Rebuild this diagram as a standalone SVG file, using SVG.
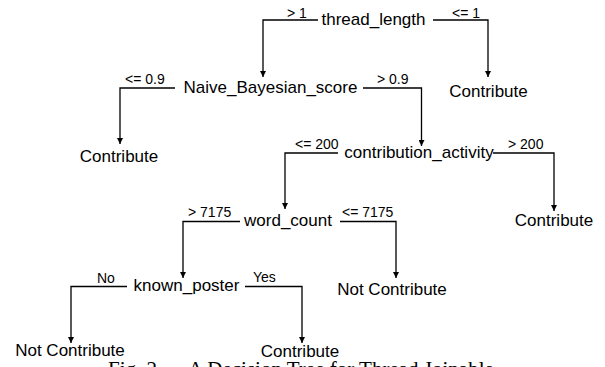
<svg xmlns="http://www.w3.org/2000/svg" width="605" height="367" viewBox="0 0 605 367">
<defs>
<style>
.n{font-family:"Liberation Sans",Arial,sans-serif;font-size:17px;fill:#000;text-anchor:middle}
.l{font-family:"Liberation Sans",Arial,sans-serif;font-size:14px;fill:#000}
.c{fill:none;stroke:#000;stroke-width:1.3}
.cap{font-family:"Liberation Serif","Times New Roman",serif;font-size:21px;fill:#000}
</style>
<marker id="ah" viewBox="0 0 10 10" refX="10" refY="5" markerWidth="6" markerHeight="6" markerUnits="userSpaceOnUse" orient="auto">
<path d="M0,0 L10,5 L0,10 z" fill="#000"/>
</marker>
</defs>
<rect width="605" height="367" fill="#fff"/>
<g id="connectors">
<path class="c" d="M318,20 H263 V77" marker-end="url(#ah)"/>
<path class="c" d="M433,20 H488 V77" marker-end="url(#ah)"/>
<path class="c" d="M175,88 H120 V144" marker-end="url(#ah)"/>
<path class="c" d="M363,88 H421.5 V146" marker-end="url(#ah)"/>
<path class="c" d="M338,153 H285 V209" marker-end="url(#ah)"/>
<path class="c" d="M493,153 H554 V211" marker-end="url(#ah)"/>
<path class="c" d="M240,221.5 H183 V278" marker-end="url(#ah)"/>
<path class="c" d="M340,221.5 H396 V278" marker-end="url(#ah)"/>
<path class="c" d="M127,286.5 H71 V343" marker-end="url(#ah)"/>
<path class="c" d="M245,286.5 H302 V343" marker-end="url(#ah)"/>
<text class="l" x="287" y="18">&gt; 1</text>
<text class="l" x="452" y="18">&lt;= 1</text>
<text class="l" x="125" y="84">&lt;= 0.9</text>
<text class="l" x="377" y="84">&gt; 0.9</text>
<text class="l" x="295" y="149">&lt;= 200</text>
<text class="l" x="508" y="149">&gt; 200</text>
<text class="l" x="188" y="217">&gt; 7175</text>
<text class="l" x="342" y="217">&lt;= 7175</text>
<text class="l" x="97" y="283">No</text>
<text class="l" x="253" y="282">Yes</text>
</g>
<g id="thread_length"><text class="n" x="373.5" y="25">thread_length</text></g>
<g id="naive_bayesian_score"><text class="n" x="270.5" y="93">Naive_Bayesian_score</text></g>
<g id="contribute_1"><text class="n" x="488.5" y="97">Contribute</text></g>
<g id="contribute_2"><text class="n" x="119" y="162">Contribute</text></g>
<g id="contribution_activity"><text class="n" x="419" y="158">contribution_activity</text></g>
<g id="contribute_3"><text class="n" x="554" y="226">Contribute</text></g>
<g id="word_count"><text class="n" x="288" y="226">word_count</text></g>
<g id="not_contribute_1"><text class="n" x="392" y="295">Not Contribute</text></g>
<g id="known_poster"><text class="n" x="186.5" y="291">known_poster</text></g>
<g id="not_contribute_2"><text class="n" x="70" y="356">Not Contribute</text></g>
<g id="contribute_4"><text class="n" x="300" y="357">Contribute</text></g>
<g id="caption">
<text class="cap" x="108" y="376">Fig. 2.</text>
<text class="cap" x="188" y="376">A Decision Tree for Thread Joinable</text>
</g>
</svg>
